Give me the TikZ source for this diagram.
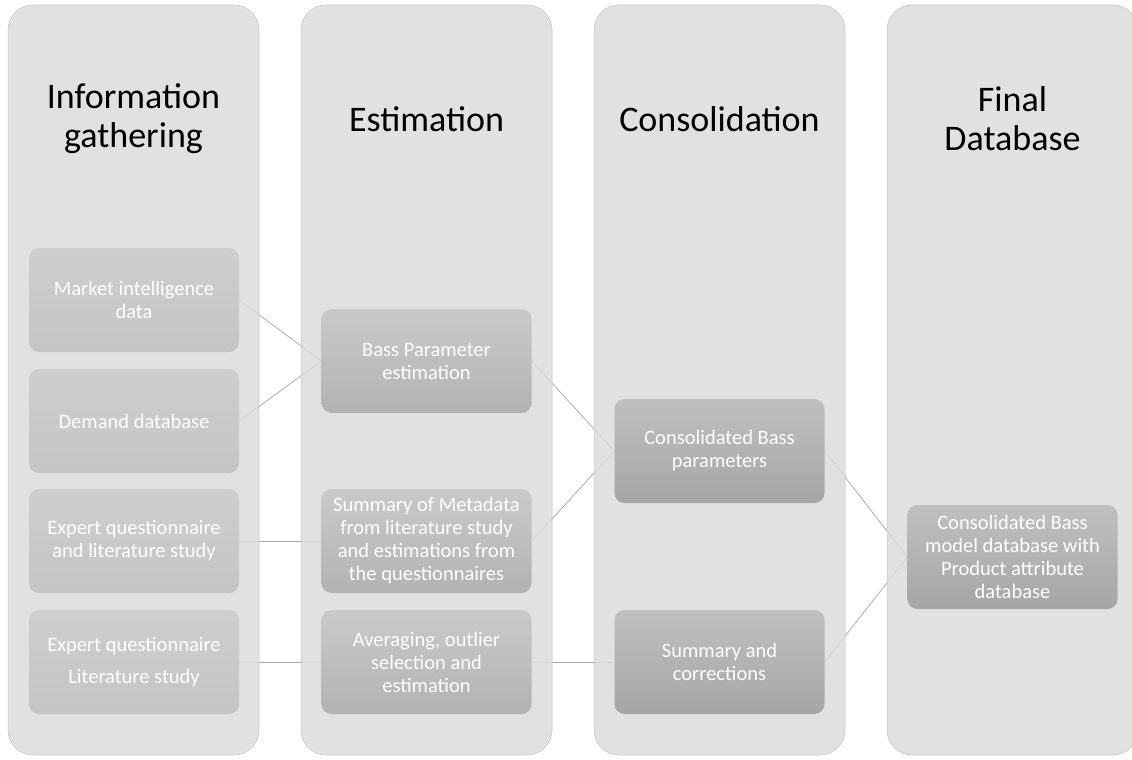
\documentclass[tikz,border=0pt]{standalone}
\usepackage{fontspec}
\setmainfont{Carlito}
\pgfdeclarelayer{bg}
\pgfdeclarelayer{lines}
\pgfdeclarelayer{cols}
\pgfsetlayers{bg,lines,cols,main}
\definecolor{colfill}{HTML}{DCDCDC}
\definecolor{colline}{HTML}{C4C4C4}
\definecolor{conn}{HTML}{A6A6A6}
\tikzset{
  colbox/.style={draw=colline, line width=0.5pt, fill=colfill, fill opacity=0.85,
    rounded corners=25pt, minimum width=251pt, minimum height=750pt, inner sep=0pt},
  header/.style={align=center, font=\fontsize{36}{39}\selectfont, text=black},
  boxbase/.style={rounded corners=10pt, minimum width=210pt, minimum height=104pt,
    inner sep=0pt, align=center, text=white, font=\fontsize{20.5}{23}\selectfont},
  boxa/.style={boxbase, top color=white!81!black, bottom color=white!77!black},
  boxb/.style={boxbase, top color=white!79!black, bottom color=white!70!black},
  boxc/.style={boxbase, top color=white!75!black, bottom color=white!65!black},
  connector/.style={draw=conn, line width=0.7pt},
}
\begin{document}
\begin{tikzpicture}[x=1pt,y=-1pt]
\useasboundingbox (0,0) rectangle (1132,760);
\begin{pgfonlayer}{bg}
\fill[white] (0,0) rectangle (1132,760);
\end{pgfonlayer}
\begin{pgfonlayer}{cols}
\node[colbox] (col1) at (133.5,380) {};
\node[colbox] (col2) at (426.5,380) {};
\node[colbox] (col3) at (719.5,380) {};
\node[colbox] (col4) at (1012.5,380) {};
\end{pgfonlayer}
% headers
\node[header] (h1) at (133.5,119) {Information\\gathering};
\node[header] (h2) at (426.5,119) {Estimation};
\node[header] (h3) at (719.5,119) {Consolidation};
\node[header] (h4) at (1012.5,119) {Final\\Database};
% column 1
\node[boxa] (mkt) at (134,300) {Market intelligence\\data};
\node[boxa] (dem) at (134,421) {Demand database};
\node[boxa] (exq) at (134,541) {Expert questionnaire\\and literature study};
\node[boxa] (exl) at (134,662) {Expert questionnaire\\[9pt]Literature study};
% column 2
\node[boxb] (bass) at (426.5,361) {Bass Parameter\\estimation};
\node[boxb] (meta) at (426.5,541) {Summary of Metadata\\from literature study\\and estimations from\\the questionnaires};
\node[boxb] (avg) at (426.5,662) {Averaging, outlier\\selection and\\estimation};
% column 3
\node[boxc] (cbp) at (719.5,451) {Consolidated Bass\\parameters};
\node[boxc] (sac) at (719.5,662) {Summary and\\corrections};
% column 4
\node[boxc] (fin) at (1012.5,557) {Consolidated Bass\\model database with\\Product attribute\\database};
% connectors
\begin{pgfonlayer}{lines}
\draw[connector] (mkt.east) -- (bass.west);
\draw[connector] (dem.east) -- (bass.west);
\draw[connector] (exq.east) -- (meta.west);
\draw[connector] (exl.east) -- (avg.west);
\draw[connector] (bass.east) -- (cbp.west);
\draw[connector] (meta.east) -- (cbp.west);
\draw[connector] (avg.east) -- (sac.west);
\draw[connector] (cbp.east) -- (fin.west);
\draw[connector] (sac.east) -- (fin.west);
\end{pgfonlayer}
\end{tikzpicture}
\end{document}
